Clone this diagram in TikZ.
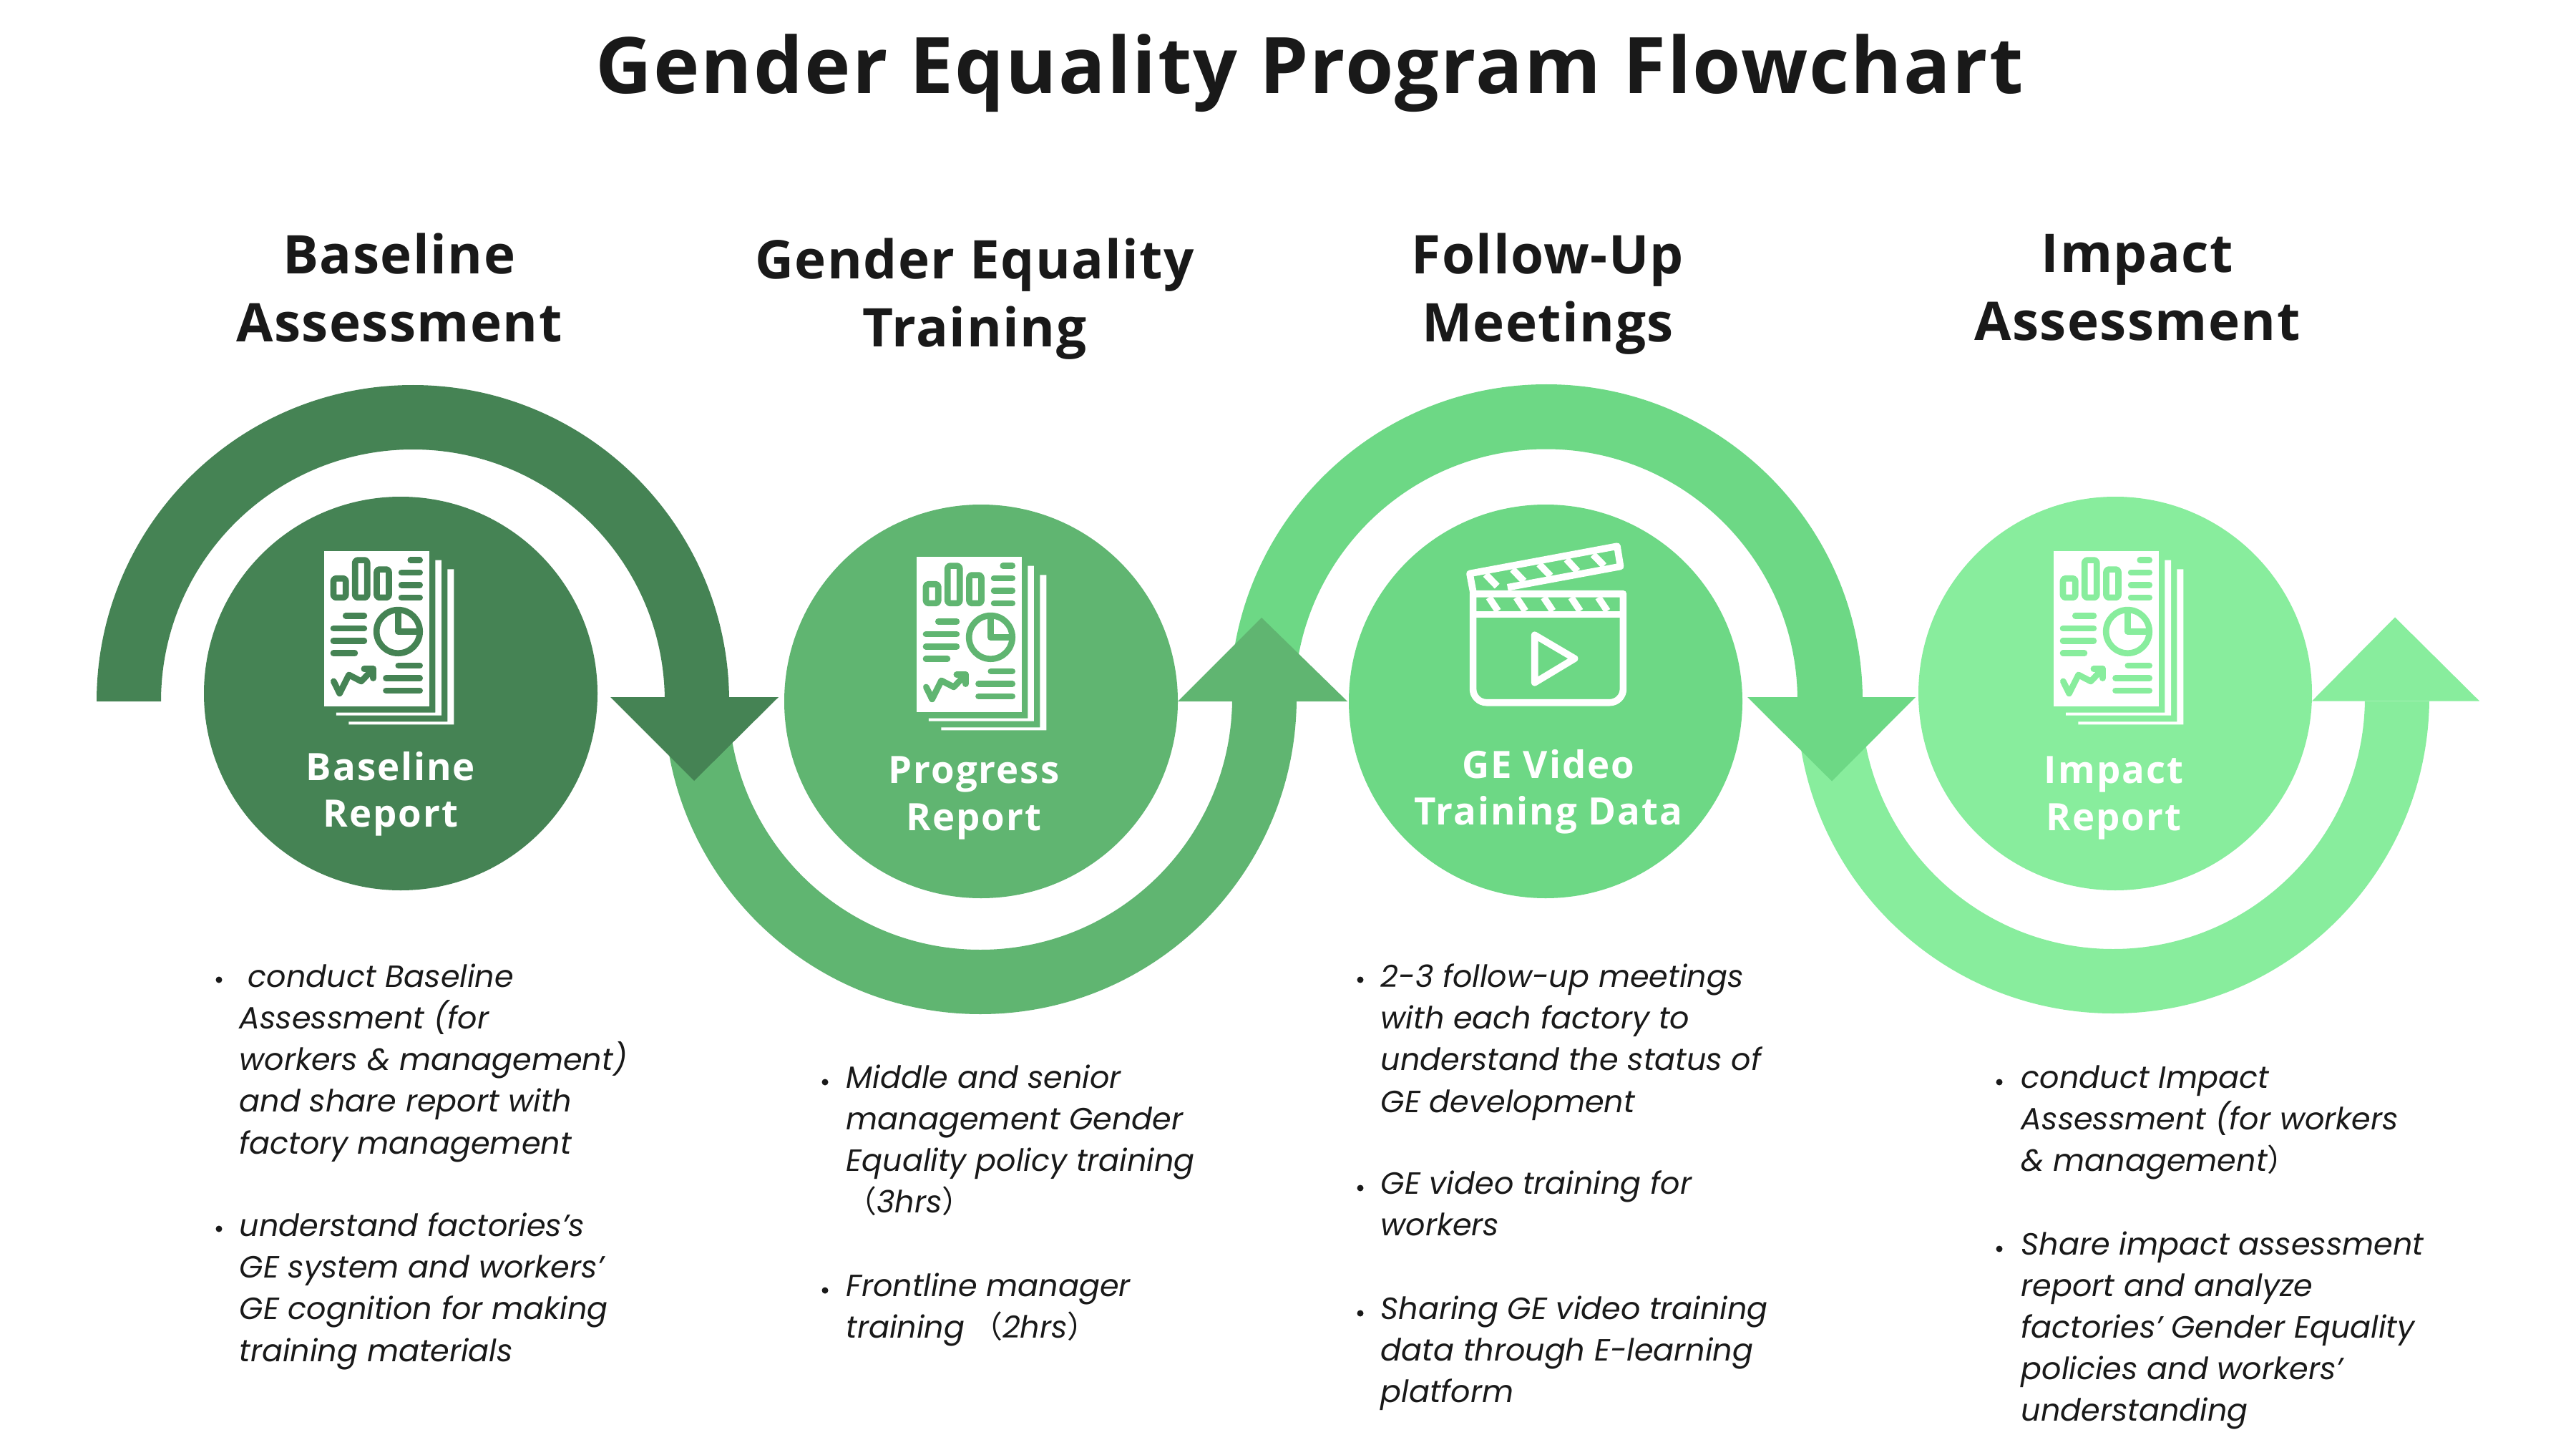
\documentclass[tikz,border=0pt]{standalone}
\usepackage{fontspec}
\setmainfont{Open Sans}
\newfontfamily\cjk{Noto Sans CJK SC}
\newfontfamily\headfont[LetterSpace=2]{Open Sans}
\newfontfamily\labelfont[LetterSpace=3.7]{Open Sans}
\newfontfamily\listfont{Poppins}
\colorlet{TextDark}{black!90}
\definecolor{StageOne}{HTML}{458354}
\definecolor{StageTwo}{HTML}{60B571}
\definecolor{StageThree}{HTML}{6DD885}
\definecolor{StageFour}{HTML}{88ED9D}
\tikzset{
    stage circle/.style={circle, minimum size=5.5cm, inner sep=0pt},
    title text/.style={font=\headfont\bfseries\fontsize{31}{36}\selectfont, text=TextDark, inner sep=0pt},
    head text/.style={font=\headfont\bfseries\fontsize{21.2}{27}\selectfont, text=TextDark, align=center, inner sep=0pt},
    circle text/.style={font=\labelfont\bfseries\fontsize{15}{18.6}\selectfont, text=white, align=center, inner sep=0pt},
    list text/.style={font=\listfont\itshape\fontsize{12.2}{16.56}\selectfont, text=TextDark, align=left, inner sep=0pt, anchor=base west},
    list dot/.style={circle, fill=TextDark, inner sep=0pt, minimum size=0.09cm},
}
% page with two more sheets behind it, #3 is the colour of the circle
\newcommand{\ReportIcon}[3]{
    \begin{scope}[shift={(#1,#2)}, x=0.003333cm, y=-0.003333cm]
        \fill[white] (0,0) rectangle (441,651);
        \fill[white] (467,38) -- (493,38) -- (493,690) -- (51,690) -- (51,678) -- (467,678) -- cycle;
        \fill[white] (518,76) -- (545,76) -- (545,729) -- (103,729) -- (103,717) -- (518,717) -- cycle;
        \begin{scope}[shift={(-100,-90)}, draw=#3, line width=0.0867cm, line cap=round, line join=round]
            \draw[rounded corners=1pt] (139,205) rectangle (191,285);
            \draw[rounded corners=1pt] (230,128) rectangle (281,285);
            \draw[rounded corners=1pt] (321,167) rectangle (372,285);
            \draw (463,128) -- (502,128);
            \draw (425,180) -- (502,180);
            \draw (425,232) -- (502,232);
            \draw (425,285) -- (502,285);
            \draw (191,362) -- (268,362);
            \draw (139,415) -- (268,415);
            \draw (139,467) -- (268,467);
            \draw (139,519) -- (229,519);
            \draw (411,428) circle (91);
            \draw (411,345) -- (411,428) -- (495,428);
            \draw (140,637) -- (165,688) -- (204,610) -- (256,637) -- (306,585);
            \draw (268,585) -- (306,585) -- (306,624);
            \draw (412,571) -- (502,571);
            \draw (360,624) -- (502,624);
            \draw (360,676) -- (502,676);
        \end{scope}
    \end{scope}
}

\begin{document}
\begin{tikzpicture}

    \path[use as bounding box, fill=white] (0,0) rectangle (36,20.25);

    \node[title text] (Title) at (18.30,19.23) {Gender Equality Program Flowchart};

    \node[head text] (HeadOne) at (5.58,16.23) {Baseline\\Assessment};
    \node[head text] (HeadTwo) at (13.62,16.07) {Gender Equality\\Training};
    \node[head text] (HeadThree) at (21.63,16.14) {Follow-Up\\Meetings};
    \node[head text] (HeadFour) at (29.87,16.23) {Impact\\Assessment};

    % fourth arc first, each arrow lies on the arc that follows
    \fill[StageFour] (25.11,10.51) arc[start angle=180, end angle=360, radius=4.42] -- (33.95,10.455) -- (33.05,10.455) -- (33.05,10.51) arc[start angle=360, end angle=180, radius=3.52] -- cycle;
    \fill[StageFour] (32.31,10.455) -- (34.65,10.455) -- (33.47,11.625) -- cycle;

    \fill[StageThree] (17.19,10.46) arc[start angle=180, end angle=0, radius=4.42] -- (26.03,10.51) -- (25.12,10.51) -- (25.12,10.46) arc[start angle=0, end angle=180, radius=3.515] -- cycle;
    \fill[StageThree] (24.42,10.51) -- (26.77,10.51) -- (25.60,9.335) -- cycle;

    \fill[StageTwo] (9.28,10.50) arc[start angle=180, end angle=360, radius=4.42] -- (18.12,10.45) -- (17.22,10.45) -- (17.22,10.50) arc[start angle=360, end angle=180, radius=3.52] -- cycle;
    \fill[StageTwo] (16.46,10.45) -- (18.83,10.45) -- (17.63,11.62) -- cycle;

    \fill[StageOne] (1.35,10.45) arc[start angle=180, end angle=0, radius=4.42] -- (10.19,10.51) -- (9.29,10.51) -- (9.29,10.45) arc[start angle=0, end angle=180, radius=3.52] -- cycle;
    \fill[StageOne] (8.53,10.51) -- (10.88,10.51) -- (9.70,9.34) -- cycle;

    \node[stage circle, fill=StageOne] (CircleOne) at (5.60,10.56) {};
    \node[stage circle, fill=StageTwo] (CircleTwo) at (13.71,10.45) {};
    \node[stage circle, fill=StageThree] (CircleThree) at (21.60,10.45) {};
    \node[stage circle, fill=StageFour] (CircleFour) at (29.56,10.56) {};

    \ReportIcon{4.53}{12.55}{StageOne}
    \ReportIcon{12.81}{12.47}{StageTwo}
    \ReportIcon{28.70}{12.55}{StageFour}

    % clapper board, numbers read off the crop
    \begin{scope}[shift={(19,13.25)}, x=0.003827cm, y=-0.003333cm, white, line width=0.096cm, line join=round]
        \draw (414,390) -- (962,390) -- (962,790) arc[start angle=0, end angle=90, x radius=50, y radius=57] -- (464,847) arc[start angle=90, end angle=180, x radius=50, y radius=57] -- cycle;
        \draw (414,476) -- (962,476);
        \draw (472,405) -- (505,462);
        \draw (572,405) -- (605,462);
        \draw (672,405) -- (705,462);
        \draw (772,405) -- (805,462);
        \draw (871,405) -- (904,462);
        \draw (415,385) -- (402,305) -- (940,190) -- (952,275) -- (540,363);
        \draw (460,308) -- (502,358);
        \draw (558,287) -- (600,337);
        \draw (655,265) -- (697,315);
        \draw (755,245) -- (795,295);
        \draw (852,225) -- (892,272);
        \draw (639,563) -- (785,662) -- (639,763) -- cycle;
    \end{scope}

    \node[circle text] (LabelOne) at (5.46,9.16) {Baseline\\Report};
    \node[circle text] (LabelTwo) at (13.61,9.10) {Progress\\Report};
    \node[circle text] (LabelThree) at (21.64,9.19) {GE Video\\Training Data};
    \node[circle text] (LabelFour) at (29.54,9.10) {Impact\\Report};

    \node[list dot] (DotOneA) at (3.06,6.56) {};
    \node[list text] (ListOneA) at (3.34,4.13) {\hspace{0.12cm}conduct Baseline\\Assessment (for\\workers \& management)\\and share report with\\factory management};
    \node[list dot] (DotOneB) at (3.06,3.08) {};
    \node[list text] (ListOneB) at (3.34,1.23) {understand factories’s\\GE system and workers’\\GE cognition for making\\training materials};

    \node[list dot] (DotTwoA) at (11.53,5.13) {};
    \node[list text] (ListTwoA) at (11.82,3.304) {Middle and senior\\management Gender\\Equality policy training\\{\cjk\upshape （}3hrs{\cjk\upshape ）}};
    \node[list dot] (DotTwoB) at (11.53,2.22) {};
    \node[list text] (ListTwoB) at (11.82,1.558) {Frontline manager\\training\hspace{0.1cm}{\cjk\upshape （}2hrs{\cjk\upshape ）}};

    \node[list dot] (DotThreeA) at (19.01,6.56) {};
    \node[list text] (ListThreeA) at (19.29,4.71) {2-3 follow-up meetings\\with each factory to\\understand the status of\\GE development};
    \node[list dot] (DotThreeB) at (19.01,3.65) {};
    \node[list text] (ListThreeB) at (19.29,2.988) {GE video training for\\workers};
    \node[list dot] (DotThreeC) at (19.01,1.90) {};
    \node[list text] (ListThreeC) at (19.29,0.656) {Sharing GE video training\\data through E-learning\\platform};

    \node[list dot] (DotFourA) at (27.94,5.13) {};
    \node[list text] (ListFourA) at (28.24,3.886) {conduct Impact\\Assessment (for workers\\\& management{\cjk\upshape ）}};
    \node[list dot] (DotFourB) at (27.94,2.80) {};
    \node[list text] (ListFourB) at (28.24,0.392) {Share impact assessment\\report and analyze\\factories’ Gender Equality\\policies and workers’\\understanding};

\end{tikzpicture}
\end{document}
